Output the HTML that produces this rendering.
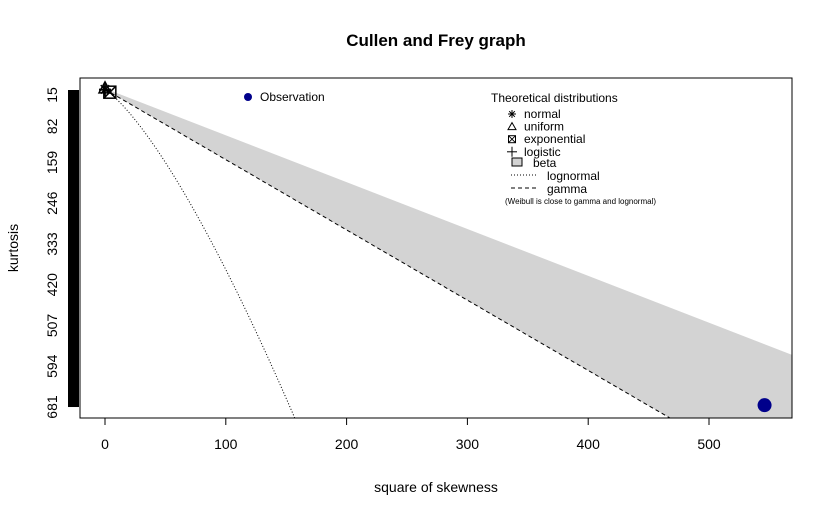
<!DOCTYPE html>
<html><head><meta charset="utf-8"><style>
html,body{margin:0;padding:0;background:#fff;overflow:hidden;width:832px;height:517px;}
svg{display:block;font-family:"Liberation Sans",Arial,sans-serif;}
</style></head><body>
<svg id="chart" width="832" height="517" viewBox="0 0 832 517">
<text x="436" y="46" text-anchor="middle" font-size="17" font-weight="bold">Cullen and Frey graph</text>
<g id="plot"></g>
<text x="436" y="492" text-anchor="middle" font-size="14">square of skewness</text>
<text transform="translate(18,248) rotate(-90)" text-anchor="middle" font-size="14">kurtosis</text>
</svg>
<script>
const xTicks=[0,100,200,300,400,500];
const yTicks=[15,82,159,246,333,420,507,594,681];
const obsX=[546];
const obsY=[677];
const theoNames=["normal","uniform","exponential","logistic"];
const theoX=[0,0,4,0];
const theoY=[3,1.8,9,4.2];

const L=80,R=792,T=78,B=418;
const sx=v=>105+v*1.208;
const sy=v=>95+(v-15)*0.4685;
const NS="http://www.w3.org/2000/svg";
const g=document.getElementById('plot');
function mk(tag,attrs,parent){const e=document.createElementNS(NS,tag);for(const k in attrs)e.setAttribute(k,attrs[k]);(parent||g).appendChild(e);return e;}

const defs=mk('defs',{});
const cp=mk('clipPath',{id:'clip'},defs);
mk('rect',{x:L,y:T,width:R-L,height:B-T},cp);
const inner=mk('g',{'clip-path':'url(#clip)'});

const xmax=700;
const reg=mk('polygon',{points:`${sx(0)},${sy(1)} ${sx(xmax)},${sy(xmax+1)} ${sx(xmax)},${sy(3+1.5*xmax)} ${sx(0)},${sy(3)}`,fill:'#d3d3d3',stroke:'none'},inner);



const gl=mk('line',{x1:sx(0),y1:sy(3),x2:sx(xmax),y2:sy(3+1.5*xmax),stroke:'#000','stroke-dasharray':'4,3','stroke-width':1},inner);



let pts=[];
for(let w=1;w<5.5;w+=0.005){const s2=(w+2)*(w+2)*(w-1);const k=w**4+2*w**3+3*w*w-3;pts.push(sx(s2)+','+sy(k));}
const ln=mk('polyline',{points:pts.join(' '),fill:'none',stroke:'#000','stroke-dasharray':'1,2','stroke-width':1},inner);



theoX.forEach((v,i)=>{
  const cx=sx(v),cy=sy(theoY[i]);
  const m=mk('g',{stroke:'#000','stroke-width':1.5,fill:'none'},inner);
  
  
  if(i===0){for(let a=0;a<4;a++){const t=a*Math.PI/4;mk('line',{x1:cx-6*Math.cos(t),y1:cy-6*Math.sin(t),x2:cx+6*Math.cos(t),y2:cy+6*Math.sin(t)},m);}}
  else if(i===1){mk('polygon',{points:`${cx},${cy-7} ${cx-6},${cy+4} ${cx+6},${cy+4}`},m);}
  else if(i===2){mk('rect',{x:cx-6,y:cy-6,width:12,height:12},m);mk('line',{x1:cx-6,y1:cy-6,x2:cx+6,y2:cy+6},m);mk('line',{x1:cx+6,y1:cy-6,x2:cx-6,y2:cy+6},m);}
  else{mk('line',{x1:cx-6,y1:cy,x2:cx+6,y2:cy},m);mk('line',{x1:cx,y1:cy-6,x2:cx,y2:cy+6},m);}
});

obsX.forEach((v,i)=>{
  const c=mk('circle',{cx:sx(v),cy:sy(obsY[i]),r:7,fill:'#00008b'},inner);
  
  
});

const box=mk('rect',{x:L,y:T,width:R-L,height:B-T,fill:'none',stroke:'#000','stroke-width':1});



const xa=mk('g',{});


mk('line',{x1:sx(xTicks[0]),y1:B,x2:sx(xTicks[xTicks.length-1]),y2:B,stroke:'#000'},xa);
xTicks.forEach(v=>{
  mk('line',{x1:sx(v),y1:B,x2:sx(v),y2:B+7,stroke:'#000'},xa);
  const t=mk('text',{x:sx(v),y:B+31,'text-anchor':'middle','font-size':14},xa);t.textContent=v;
  
  
});

const ya=mk('g',{});


mk('rect',{x:68,y:sy(yTicks[0])-5,width:11,height:sy(yTicks[yTicks.length-1])-sy(yTicks[0])+5,fill:'#000'},ya);
yTicks.forEach(v=>{
  const t=mk('text',{transform:`translate(57,${sy(v)}) rotate(-90)`,'text-anchor':'middle','font-size':14},ya);t.textContent=v;
  
  
});

const lo=mk('g',{});


mk('circle',{cx:248,cy:97,r:4,fill:'#00008b'},lo);
const lt=mk('text',{x:260,y:101,'font-size':12},lo);lt.textContent='Observation';

const lg=mk('g',{'font-size':12});


const t0=mk('text',{x:491,y:102},lg);t0.textContent='Theoretical distributions';
const items=['normal','uniform','exponential','logistic'];
items.forEach((n,i)=>{const y=114+i*12.6;const t=mk('text',{x:524,y:y+4},lg);t.textContent=n;
  const cx=512,cy=y;const m=mk('g',{stroke:'#000','stroke-width':1,fill:'none'},lg);
  if(i===0){for(let a=0;a<4;a++){const th=a*Math.PI/4;mk('line',{x1:cx-4*Math.cos(th),y1:cy-4*Math.sin(th),x2:cx+4*Math.cos(th),y2:cy+4*Math.sin(th)},m);}}
  else if(i===1){mk('polygon',{points:`${cx},${cy-4} ${cx-4},${cy+3} ${cx+4},${cy+3}`},m);}
  else if(i===2){mk('rect',{x:cx-3.5,y:cy-3.5,width:7,height:7},m);mk('line',{x1:cx-3.5,y1:cy-3.5,x2:cx+3.5,y2:cy+3.5},m);mk('line',{x1:cx+3.5,y1:cy-3.5,x2:cx-3.5,y2:cy+3.5},m);}
  else{mk('line',{x1:cx-5,y1:cy,x2:cx+5,y2:cy},m);mk('line',{x1:cx,y1:cy-5,x2:cx,y2:cy+5},m);}
});
mk('rect',{x:512,y:158,width:10,height:8,fill:'#d3d3d3',stroke:'#000'},lg);
let t=mk('text',{x:533,y:167},lg);t.textContent='beta';
mk('line',{x1:511,y1:175,x2:536,y2:175,stroke:'#000','stroke-dasharray':'1,2'},lg);
t=mk('text',{x:547,y:180},lg);t.textContent='lognormal';
mk('line',{x1:511,y1:188,x2:536,y2:188,stroke:'#000','stroke-dasharray':'4,3'},lg);
t=mk('text',{x:547,y:193},lg);t.textContent='gamma';
t=mk('text',{x:505,y:204,'font-size':8},lg);t.textContent='(Weibull is close to gamma and lognormal)';
</script>
</body></html>
